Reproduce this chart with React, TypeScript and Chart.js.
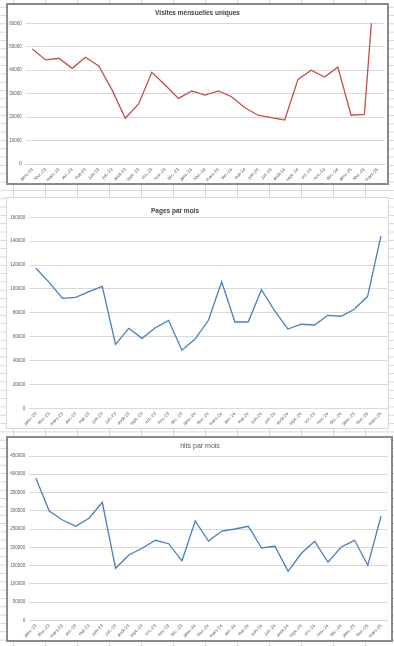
import React, { useEffect, useRef } from "react";
import { Chart, registerables } from "chart.js";

Chart.register(...registerables);

const MONTHS = [
  "janv.-23", "févr.-23", "mars-23", "avr.-23", "mai-23", "juin-23",
  "juil.-23", "août-23", "sept.-23", "oct.-23", "nov.-23", "déc.-23",
  "janv.-24", "févr.-24", "mars-24", "avr.-24", "mai-24", "juin-24",
  "juil.-24", "août-24", "sept.-24", "oct.-24", "nov.-24", "déc.-24",
  "janv.-25", "févr.-25", "mars-25",
];

const VISITES = [
  49000, 44400, 45100, 40800, 45500, 41800, 31600, 19500, 25600, 39100, 33700, 28000,
  31200, 29400, 31200, 28700, 24000, 20800, 19800, 18800, 36100, 40000, 37100, 41300,
  20800, 21200, 95000,
];

const PAGES = [
  117300, 105500, 92100, 93000, 97700, 102200, 53600, 67000, 58600, 67500, 73700, 48600,
  58000, 73700, 106000, 72300, 72300, 99400, 81500, 66400, 70400, 69800, 77900, 77100,
  82900, 93800, 144300,
];

const HITS = [
  388900, 299400, 274700, 257500, 279400, 323200, 142400, 178900, 197200, 219100, 209800, 162400,
  272000, 217200, 244600, 250100, 257500, 198000, 202700, 134200, 183500, 216400, 158900, 200800,
  219100, 150600, 285700,
];

const TITLE_VISITES = "Visites mensuelles uniques";
const TITLE_PAGES = "Pages par mois";
const TITLE_HITS = "hits par mois";

const FONT = "'Liberation Sans', Arial, sans-serif";
const TEXT = "#595959";
const GRID = "#d9d9d9";

type Spec = {
  left: number; top: number; width: number; height: number;
  border: string;
  title: string; titleBold: boolean; titleX: number; titleY: number;
  data: number[]; color: string;
  yMax: number; yStep: number;
  yWidth: number; xHeight: number; padTop: number; padRight: number;
};

const titlePlugin = {
  id: "fixedTitle",
  afterDraw(chart: any, _args: any, opts: any) {
    const ctx = chart.ctx;
    ctx.save();
    ctx.font = opts.bold ? `bold 6.5px ${FONT}` : `7px ${FONT}`;
    ctx.fillStyle = opts.bold ? "#404040" : TEXT;
    ctx.textAlign = "center";
    ctx.textBaseline = "middle";
    ctx.fillText(opts.text, opts.x, opts.y);
    ctx.restore();
  },
};

function ChartBox({ spec }: { spec: Spec }) {
  const ref = useRef<HTMLCanvasElement | null>(null);
  const bw = spec.border.startsWith("2") ? 2 : 1;
  const cw = spec.width - 2 * bw;
  const ch = spec.height - 2 * bw;

  useEffect(() => {
    if (!ref.current) return;
    const chart = new Chart(ref.current, {
      type: "line",
      data: {
        labels: MONTHS,
        datasets: [
          {
            data: spec.data,
            borderColor: spec.color,
            backgroundColor: spec.color,
            borderWidth: 1.3,
            pointRadius: 0,
            tension: 0,
            fill: false,
          },
        ],
      },
      options: {
        responsive: false,
        animation: false,
        devicePixelRatio: 1,
        layout: { padding: { top: spec.padTop, right: spec.padRight, left: 0, bottom: 0 } },
        plugins: {
          legend: { display: false },
          tooltip: { enabled: false },
          title: { display: false },
          fixedTitle: {
            text: spec.title,
            bold: spec.titleBold,
            x: spec.titleX,
            y: spec.titleY,
          },
        } as any,
        scales: {
          x: {
            offset: true,
            grid: { display: false, drawTicks: false },
            border: { display: true, color: GRID },
            ticks: {
              autoSkip: false,
              minRotation: 45,
              maxRotation: 45,
              padding: 3,
              color: TEXT,
              font: { size: 4.5, family: FONT },
            },
            afterFit: (s: any) => { s.height = spec.xHeight; },
          },
          y: {
            min: 0,
            max: spec.yMax,
            grid: { color: GRID, lineWidth: 1, drawTicks: false },
            border: { display: false },
            ticks: {
              stepSize: spec.yStep,
              padding: 4,
              color: TEXT,
              font: { size: 4.5, family: FONT },
              callback: (v: any) => String(v),
            },
            afterFit: (s: any) => { s.width = spec.yWidth; },
          },
        },
      },
      plugins: [titlePlugin],
    });
    return () => chart.destroy();
  }, [spec]);

  return (
    <div
      style={{
        position: "absolute",
        left: spec.left,
        top: spec.top,
        width: spec.width,
        height: spec.height,
        boxSizing: "border-box",
        border: spec.border,
        background: "#ffffff",
      }}
    >
      <canvas ref={ref} width={cw} height={ch} style={{ display: "block", width: cw, height: ch }} />
    </div>
  );
}

const SPECS: Spec[] = [
  {
    left: 6, top: 3, width: 383, height: 182, border: "2px solid #8a8a8a",
    title: TITLE_VISITES, titleBold: true, titleX: 189.5, titleY: 8.5,
    data: VISITES, color: "#c0504d", yMax: 60000, yStep: 10000,
    yWidth: 17.7, xHeight: 19, padTop: 18.3, padRight: 2.7,
  },
  {
    left: 6, top: 197, width: 383, height: 232, border: "1px solid #d9d9d9",
    title: TITLE_PAGES, titleBold: true, titleX: 168, titleY: 13.7,
    data: PAGES, color: "#4a7ebb", yMax: 160000, yStep: 20000,
    yWidth: 22.3, xHeight: 19.7, padTop: 19.3, padRight: 0.5,
  },
  {
    left: 6, top: 436, width: 387, height: 206, border: "2px solid #8a8a8a",
    title: TITLE_HITS, titleBold: false, titleX: 192, titleY: 7.7,
    data: HITS, color: "#4a7ebb", yMax: 450000, yStep: 50000,
    yWidth: 21.3, xHeight: 19.7, padTop: 18, padRight: 3.3,
  },
];

export default function App() {
  return (
    <div
      style={{
        position: "absolute",
        left: 0,
        top: 0,
        width: 394,
        height: 646,
        overflow: "hidden",
        backgroundColor: "#ffffff",
        backgroundImage:
          "linear-gradient(to right, #d6d6d6 1px, transparent 1px), linear-gradient(to bottom, #d6d6d6 1px, transparent 1px)",
        backgroundSize: "32px 8.33px",
        backgroundPosition: "13px 6.7px",
      }}
    >
      {SPECS.map((s, i) => (
        <ChartBox key={i} spec={s} />
      ))}
    </div>
  );
}
